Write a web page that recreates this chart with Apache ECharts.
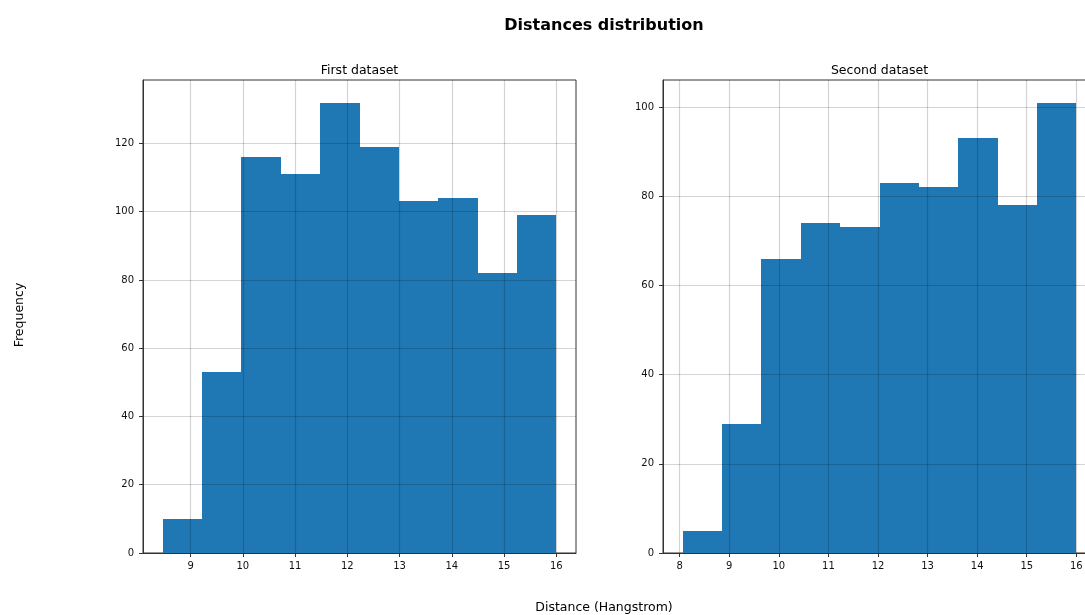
<!DOCTYPE html>
<html>
<head>
<meta charset="utf-8">
<title>Distances distribution</title>
<script src="https://cdn.jsdelivr.net/npm/echarts@6/dist/echarts.min.js"></script>
<style>
  html, body { margin: 0; padding: 0; background: #fff; }
  #chart { width: 1085px; height: 615px; }
</style>
</head>
<body>
<div id="chart"></div>
<script>
// Histogram bin edges and counts for each dataset
const firstEdges = [8.465, 9.2185, 9.972, 10.7255, 11.479, 12.2325, 12.986, 13.7395, 14.493, 15.2465, 16.0];
const firstCounts = [10, 53, 116, 111, 132, 119, 103, 104, 82, 99];

const secondEdges = [8.06, 8.854, 9.648, 10.442, 11.236, 12.03, 12.824, 13.618, 14.412, 15.206, 16.0];
const secondCounts = [5, 29, 66, 74, 73, 83, 82, 93, 78, 101];

// Tick values
const firstXTicks = [9, 10, 11, 12, 13, 14, 15, 16];
const secondXTicks = [8, 9, 10, 11, 12, 13, 14, 15, 16];
const firstYTicks = [0, 20, 40, 60, 80, 100, 120];
const secondYTicks = [0, 20, 40, 60, 80, 100];

const chartTitle = 'Distances distribution';
const subTitles = ['First dataset', 'Second dataset'];
const xName = 'Distance (Hangstrom)';
const yName = 'Frequency';

const BAR_COLOR = '#1f77b4';
const FONT = 'DejaVu Sans';
const SPINE = '#333';
const GRID_LINE = 'rgba(0,0,0,0.17)';

// matplotlib-style 5% margins around the data
function padRange(lo, hi) {
  const m = (hi - lo) * 0.05;
  return [lo - m, hi + m];
}

function binsData(edges, counts) {
  return counts.map((c, i) => [edges[i], edges[i + 1], c]);
}

// One filled rectangle per bin, snapped to whole pixels so neighbours touch cleanly
function renderBin(params, api) {
  const x0 = api.value(0), x1 = api.value(1), y = api.value(2);
  const pTop = api.coord([x0, y]);
  const pBot = api.coord([x1, 0]);
  const left = Math.round(pTop[0]);
  const right = Math.round(pBot[0]);
  const top = Math.round(pTop[1]);
  const bottom = Math.round(pBot[1]);
  return {
    type: 'rect',
    shape: { x: left, y: top, width: right - left, height: bottom - top },
    style: { fill: BAR_COLOR }
  };
}

function xAxisFor(idx, edges, ticks) {
  const r = padRange(edges[0], edges[edges.length - 1]);
  return {
    type: 'value', gridIndex: idx, min: r[0], max: r[1], z: 3,
    axisLine: { show: true, onZero: false, lineStyle: { color: SPINE, width: 1 } },
    axisTick: { show: true, length: 4, customValues: ticks, lineStyle: { color: SPINE } },
    axisLabel: { customValues: ticks, margin: 8, color: '#111', fontFamily: FONT, fontSize: 10 },
    splitLine: { show: true, lineStyle: { color: GRID_LINE, width: 1.2 } }
  };
}

function yAxisFor(idx, counts, ticks) {
  const mx = Math.max.apply(null, counts) * 1.05;
  return {
    type: 'value', gridIndex: idx, min: 0, max: mx, z: 3,
    axisLine: { show: true, onZero: false, lineStyle: { color: SPINE, width: 1 } },
    axisTick: { show: true, length: 4, customValues: ticks, lineStyle: { color: SPINE } },
    axisLabel: { customValues: ticks, margin: 9, color: '#111', fontFamily: FONT, fontSize: 10 },
    splitLine: { show: true, lineStyle: { color: GRID_LINE, width: 1.2 } }
  };
}

const chart = echarts.init(document.getElementById('chart'), null, { renderer: 'canvas' });

chart.setOption({
  animation: false,
  backgroundColor: '#fff',
  title: [
    { text: chartTitle, left: 599, top: 13, textAlign: 'center',
      textStyle: { fontFamily: FONT, fontSize: 16, fontWeight: 'bold', color: '#000' } },
    { text: subTitles[0], left: 354.5, top: 59, textAlign: 'center',
      textStyle: { fontFamily: FONT, fontSize: 12.5, fontWeight: 'normal', color: '#000' } },
    { text: subTitles[1], left: 874.5, top: 59, textAlign: 'center',
      textStyle: { fontFamily: FONT, fontSize: 12.5, fontWeight: 'normal', color: '#000' } }
  ],
  graphic: [
    { type: 'text', x: 604, y: 608, style: { text: xName, fill: '#000', font: '12.5px "DejaVu Sans"', textAlign: 'center', textVerticalAlign: 'middle' } },
    { type: 'text', x: 20, y: 315, rotation: Math.PI / 2, style: { text: yName, fill: '#000', font: '12.5px "DejaVu Sans"', textAlign: 'center', textVerticalAlign: 'middle' } }
  ],
  grid: [
    { left: 143, top: 80, width: 433, height: 473, outerBoundsMode: 'none', containLabel: false,
      show: true, borderColor: SPINE, borderWidth: 1, backgroundColor: 'transparent' },
    { left: 663, top: 80, width: 433, height: 473, outerBoundsMode: 'none', containLabel: false,
      show: true, borderColor: SPINE, borderWidth: 1, backgroundColor: 'transparent' }
  ],
  xAxis: [
    xAxisFor(0, firstEdges, firstXTicks),
    xAxisFor(1, secondEdges, secondXTicks)
  ],
  yAxis: [
    yAxisFor(0, firstCounts, firstYTicks),
    yAxisFor(1, secondCounts, secondYTicks)
  ],
  series: [
    { type: 'custom', name: subTitles[0], xAxisIndex: 0, yAxisIndex: 0, renderItem: renderBin,
      encode: { x: [0, 1], y: 2 }, data: binsData(firstEdges, firstCounts), clip: true },
    { type: 'custom', name: subTitles[1], xAxisIndex: 1, yAxisIndex: 1, renderItem: renderBin,
      encode: { x: [0, 1], y: 2 }, data: binsData(secondEdges, secondCounts), clip: true }
  ]
});
</script>
</body>
</html>
